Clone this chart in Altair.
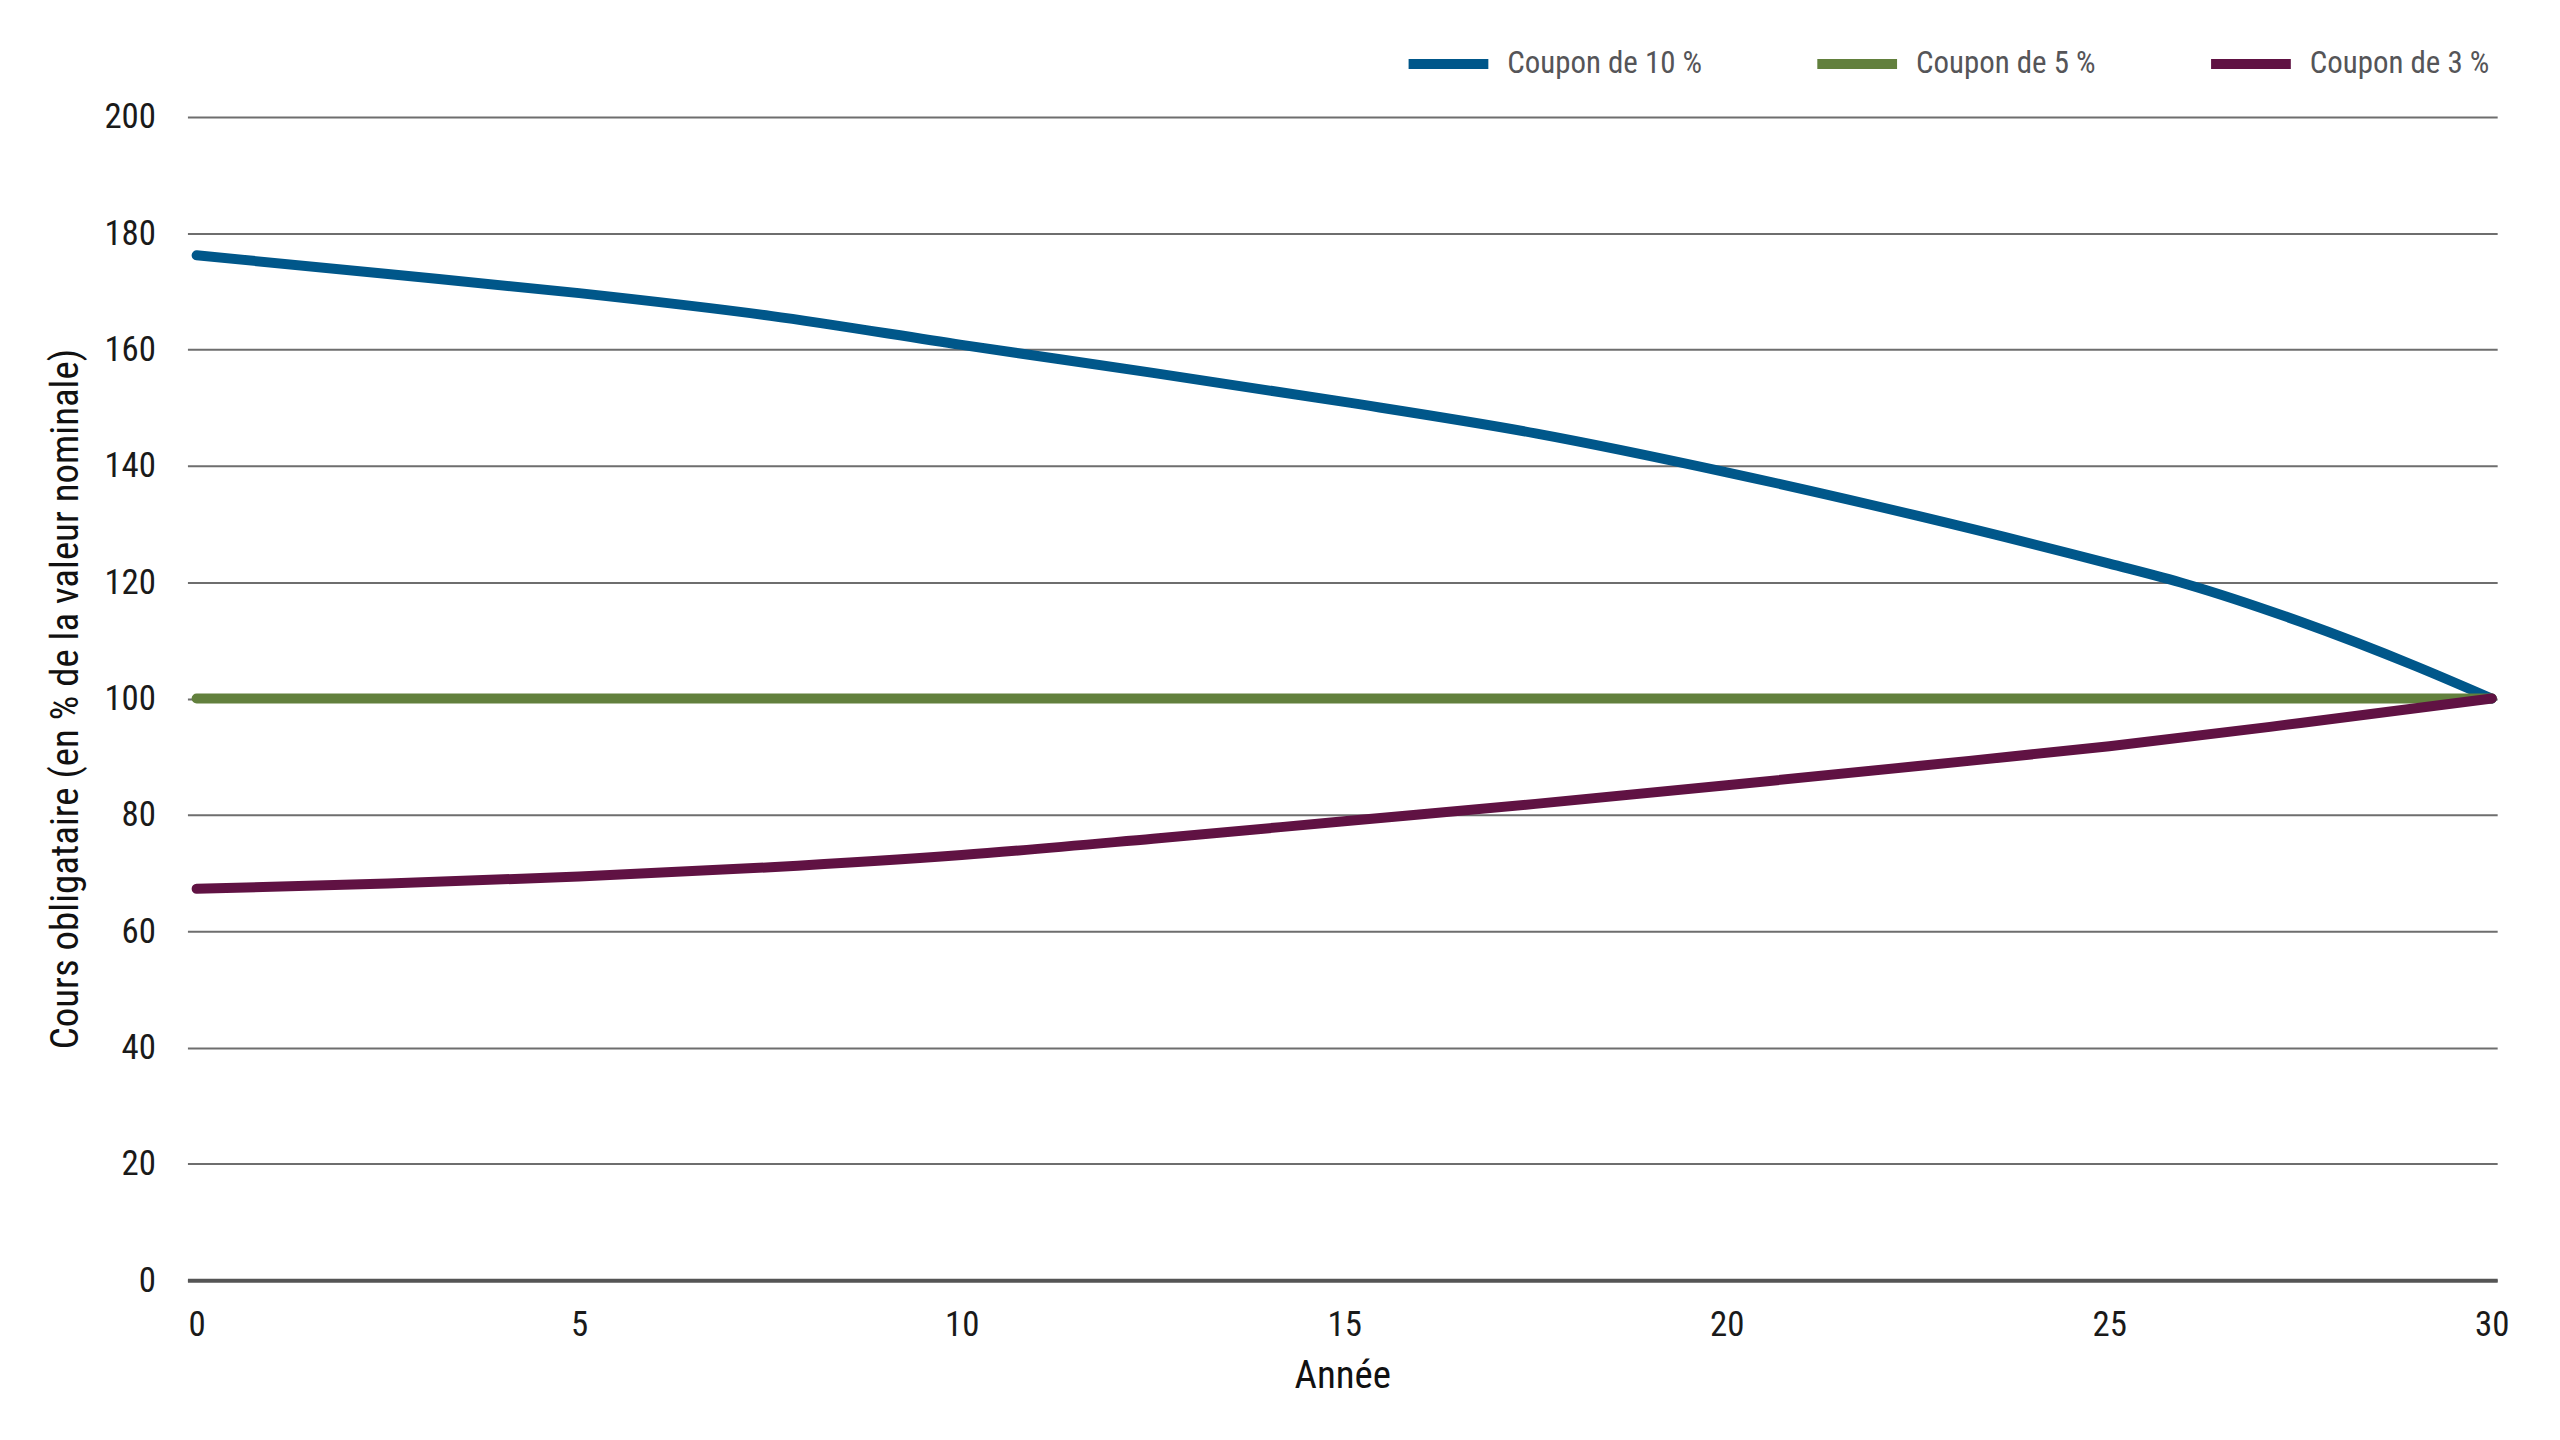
import altair as alt
import pandas as pd

years = [0, 2.5, 5, 7.5, 10, 12.5, 15, 17.5, 20, 22.5, 25, 26, 27.5, 29, 30]
coupon_10 = [176.2, 173.0, 169.7, 165.8, 160.8, 156.0, 151.0, 145.6, 138.9, 131.4, 123.2, 119.7, 113.2, 105.6, 100.0]
years_5 = [0, 30]
coupon_5 = [100.0, 100.0]
years_3 = [0, 2.5, 5, 7.5, 10, 12.5, 15, 17.5, 20, 22.5, 25, 27.5, 30]
coupon_3 = [67.3, 68.2, 69.4, 71.0, 73.1, 75.9, 78.9, 81.9, 85.1, 88.4, 91.8, 95.8, 100.0]

series_names = ["Coupon de 10 %", "Coupon de 5 %", "Coupon de 3 %"]
series_colors = ["#00578A", "#62803D", "#601243"]
x_ticks = [0, 5, 10, 15, 20, 25, 30]
y_ticks = [0, 20, 40, 60, 80, 100, 120, 140, 160, 180, 200]

rows = []
for x, v in zip(years, coupon_10):
    rows.append({"annee": x, "cours": v, "serie": series_names[0]})
for x, v in zip(years_5, coupon_5):
    rows.append({"annee": x, "cours": v, "serie": series_names[1]})
for x, v in zip(years_3, coupon_3):
    rows.append({"annee": x, "cours": v, "serie": series_names[2]})
df = pd.DataFrame(rows)

FONT = "Roboto Condensed, Liberation Sans Narrow, DejaVu Sans Condensed, Roboto"

chart = alt.Chart(df).mark_line(
    strokeWidth=10, strokeCap="round", strokeJoin="round", interpolate="monotone"
).encode(
    x=alt.X(
        "annee:Q",
        title="Année",
        scale=alt.Scale(domain=[-0.12, 30.07], nice=False, zero=False),
        axis=alt.Axis(
            values=x_ticks, grid=False, ticks=False, tickSize=0,
            labelFontSize=35, labelColor="#1a1a1a", labelPadding=55,
            labelBaseline="alphabetic", labelFlush=False,
            domain=True, domainColor="#555555", domainWidth=4,
            titleFontSize=39, titleFontWeight="normal", titleColor="#111111",
            titleY=96, titleBaseline="middle",
        ),
    ),
    y=alt.Y(
        "cours:Q",
        title="Cours obligataire (en % de la valeur nominale)",
        scale=alt.Scale(domain=[0, 200], nice=False),
        axis=alt.Axis(
            values=y_ticks, grid=True, gridColor="#6e6e6e", gridWidth=2,
            ticks=False, tickSize=0, domain=False,
            labelFontSize=35, labelColor="#1a1a1a", labelPadding=32,
            titleFontSize=39, titleFontWeight="normal", titleColor="#111111",
            titleX=-122, titleBaseline="middle",
        ),
    ),
    color=alt.Color(
        "serie:N",
        sort=series_names,
        scale=alt.Scale(domain=series_names, range=series_colors),
        legend=alt.Legend(
            title=None, orient="none", direction="horizontal",
            legendX=1220, legendY=-98,
            symbolType="stroke", symbolSize=6400, symbolStrokeWidth=10,
            labelFontSize=31, labelColor="#555558", labelOffset=14,
            labelLimit=500, columnPadding=95,
        ),
    ),
    order=alt.Order("annee:Q"),
).properties(
    width=2317,
    height=1167,
    autosize=alt.AutoSizeParams(type="none"),
    padding={"left": 180, "top": 107, "right": 55, "bottom": 150},
).configure(
    font=FONT,
).configure_view(
    stroke=None
).configure_legend(
    labelFont=FONT
)

chart.save("out.html", embed_options={"renderer": "svg", "actions": False})
